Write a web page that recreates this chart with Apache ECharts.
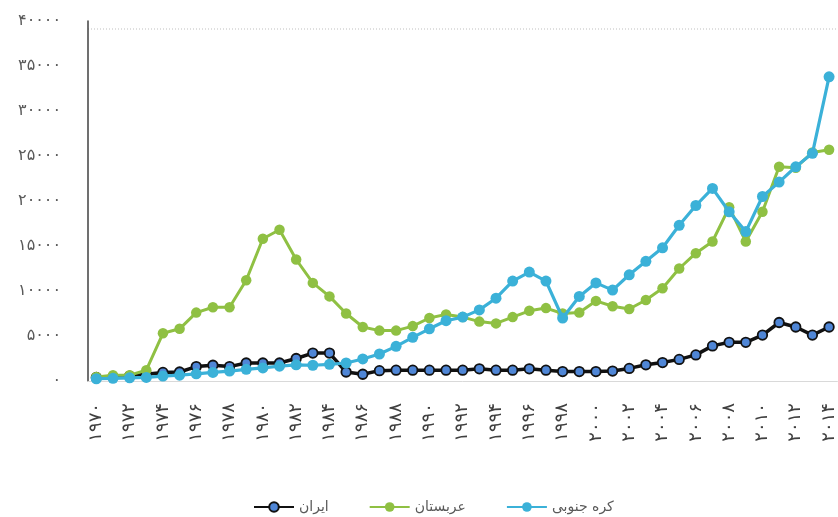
<!DOCTYPE html>
<html>
<head>
<meta charset="utf-8">
<script src="https://cdn.jsdelivr.net/npm/echarts@6/dist/echarts.min.js"></script>
<style>
html,body{margin:0;padding:0;background:#fff;}
#chart{width:838px;height:517px;}
</style>
</head>
<body>
<div id="chart"></div>
<script>
// Categories (years, Persian digits)
const years = ['۱۹۷۰','۱۹۷۱','۱۹۷۲','۱۹۷۳','۱۹۷۴','۱۹۷۵','۱۹۷۶','۱۹۷۷','۱۹۷۸','۱۹۷۹',
  '۱۹۸۰','۱۹۸۱','۱۹۸۲','۱۹۸۳','۱۹۸۴','۱۹۸۵','۱۹۸۶','۱۹۸۷','۱۹۸۸','۱۹۸۹',
  '۱۹۹۰','۱۹۹۱','۱۹۹۲','۱۹۹۳','۱۹۹۴','۱۹۹۵','۱۹۹۶','۱۹۹۷','۱۹۹۸','۱۹۹۹',
  '۲۰۰۰','۲۰۰۱','۲۰۰۲','۲۰۰۳','۲۰۰۴','۲۰۰۵','۲۰۰۶','۲۰۰۷','۲۰۰۸','۲۰۰۹',
  '۲۰۱۰','۲۰۱۱','۲۰۱۲','۲۰۱۳','۲۰۱۴'];

// Y tick labels (Persian digits), one per 5000 step
const yTickLabels = ['۰','۵۰۰۰','۱۰۰۰۰','۱۵۰۰۰','۲۰۰۰۰','۲۵۰۰۰','۳۰۰۰۰','۳۵۰۰۰','۴۰۰۰۰'];

// Series names
const nameIran = 'ایران';
const nameSaudi = 'عربستان';
const nameKorea = 'کره جنوبی';

// Series values
const iran = [400,450,550,750,950,1000,1600,1750,1600,2000,
  2000,2000,2500,3100,3100,1000,750,1150,1200,1200,
  1200,1200,1200,1350,1200,1200,1350,1200,1050,1050,
  1050,1100,1400,1800,2050,2400,2900,3900,4300,4300,
  5100,6500,6000,5100,6000];

const saudi = [450,650,650,1200,5300,5800,7600,8200,8200,11200,
  15800,16800,13500,10900,9400,7500,6000,5600,5600,6100,
  7000,7400,7100,6600,6400,7100,7800,8100,7500,7600,
  8900,8300,8000,9000,10300,12500,14200,15500,19300,15500,
  18800,23800,23700,25400,25700];

const korea = [250,300,350,400,550,650,800,950,1100,1300,
  1450,1650,1800,1750,1850,2000,2450,3000,3850,4850,
  5800,6700,7100,7900,9200,11100,12100,11100,7000,9400,
  10900,10100,11800,13300,14800,17300,19500,21400,18800,16600,
  20500,22100,23800,25300,33800];

const chart = echarts.init(document.getElementById('chart'), null, {renderer:'canvas'});
const font = '"DejaVu Sans", "Noto Sans", sans-serif';

chart.setOption({
  animation: false,
  backgroundColor: '#ffffff',
  textStyle: { fontFamily: font },
  grid: { left: 88, right: -6, top: 21, bottom: 136, containLabel: false },
  legend: {
    left: 248, top: 495,
    itemWidth: 40, itemHeight: 12, itemGap: 40,
    textStyle: { fontFamily: font, fontSize: 14, color: '#595959' },
    data: [nameIran, nameSaudi, nameKorea]
  },
  graphic: [{
    type: 'line', z: 0,
    shape: { x1: 88, y1: 29, x2: 838, y2: 29 },
    style: { stroke: '#bfbfbf', lineWidth: 1, lineDash: [1, 2] }
  }],
  xAxis: {
    type: 'category',
    data: years,
    boundaryGap: true,
    axisLine: { show: true, lineStyle: { color: '#d9d9d9', width: 1 } },
    axisTick: { show: false },
    axisLabel: {
      interval: 1, rotate: 90, margin: 22,
      fontFamily: font, fontSize: 18, color: '#404040'
    },
    splitLine: { show: false }
  },
  yAxis: {
    type: 'value',
    min: 0, max: 40000, interval: 5000,
    axisLine: { show: true, lineStyle: { color: '#404040', width: 1.5 } },
    axisTick: { show: false },
    splitLine: { show: false },
    axisLabel: {
      margin: 27, fontFamily: font, fontSize: 16, color: '#595959',
      formatter: function (v) { return yTickLabels[Math.round(v / 5000)]; }
    }
  },
  series: [
    {
      name: nameIran, type: 'line', data: iran,
      symbol: 'circle', symbolSize: 9.5,
      lineStyle: { color: '#111111', width: 3.5 },
      itemStyle: { color: '#4f86d6', borderColor: '#111111', borderWidth: 1.8 },
      z: 2
    },
    {
      name: nameSaudi, type: 'line', data: saudi,
      symbol: 'circle', symbolSize: 10.5,
      lineStyle: { color: '#8fc043', width: 3 },
      itemStyle: { color: '#8fc043', borderColor: '#8fc043', borderWidth: 0 },
      z: 3
    },
    {
      name: nameKorea, type: 'line', data: korea,
      symbol: 'circle', symbolSize: 11,
      lineStyle: { color: '#3bb1d8', width: 3.2 },
      itemStyle: { color: '#3bb1d8', borderColor: '#3bb1d8', borderWidth: 0 },
      z: 4
    }
  ]
});
</script>
</body>
</html>
